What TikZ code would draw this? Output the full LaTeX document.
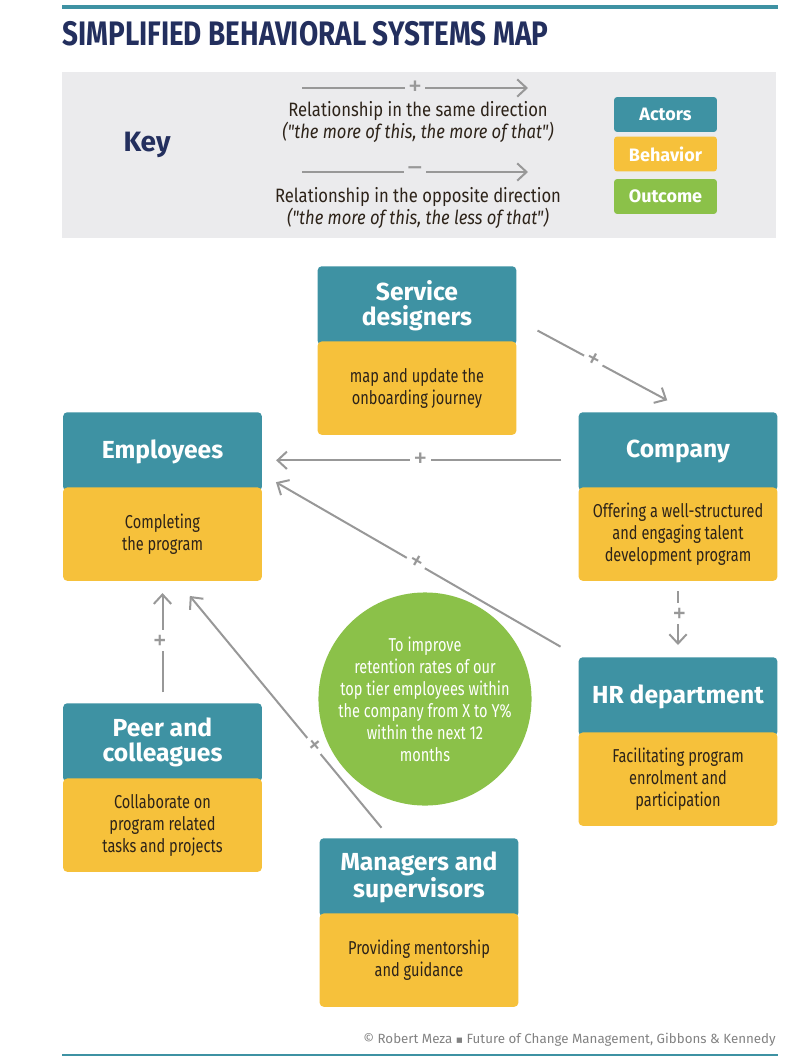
\documentclass[tikz,border=0pt]{standalone}
\usepackage{fontspec}
\setmainfont{Fira Sans}
\newfontfamily\narrowfont[FakeStretch=0.78]{Fira Sans}
\newfontfamily\keyfont[FakeStretch=0.86]{Fira Sans}
\newfontfamily\titlefont[FakeStretch=0.82]{Fira Sans}
\newfontfamily\symbolfont{DejaVu Sans}
\usetikzlibrary{positioning,calc,arrows.meta}
\definecolor{tealhead}{RGB}{62,146,163}
\definecolor{yellowbody}{RGB}{246,193,59}
\definecolor{greengoal}{RGB}{139,193,73}
\definecolor{navytitle}{RGB}{35,47,94}
\definecolor{keygray}{RGB}{235,235,237}
\definecolor{linkgray}{RGB}{152,152,152}
\definecolor{bodytext}{RGB}{45,35,25}
\definecolor{footgray}{RGB}{130,130,130}

\begin{document}
\begin{tikzpicture}[x=0.75pt, y=-0.75pt,
    actor/.style={fill=tealhead, text=white, rounded corners=3pt, anchor=north,
                  minimum width=149pt, minimum height=59pt, inner sep=0pt, align=center,
                  font=\bfseries\fontsize{18.5}{19}\selectfont},
    behav/.style={fill=yellowbody, text=bodytext, rounded corners=3pt,
                  minimum width=149pt, minimum height=70pt, inner sep=0pt, align=center,
                  font=\narrowfont\fontsize{14}{16.5}\selectfont},
    legend/.style={text=white, rounded corners=2pt, minimum width=77pt, minimum height=26pt,
                   inner sep=0pt, font=\bfseries\fontsize{13.5}{14}\selectfont},
    keytext/.style={text=bodytext, inner sep=0pt, font=\keyfont\fontsize{14.5}{16}\selectfont},
    rel/.style={draw=linkgray, line width=1.5pt, -{Straight Barb[length=7pt,width=13pt]}},
    sign/.style={fill=white, text=linkgray, inner sep=2.5pt, sloped,
                 font=\fontsize{21}{21}\selectfont}]
    \useasboundingbox (0,0) rectangle (812,1058);
    \draw[tealhead, line width=3pt] (62,7) -- (778,7);
    \node[anchor=base west, inner sep=0pt, text=navytitle,
          font=\titlefont\bfseries\fontsize{25.5}{26}\selectfont] (title) at (62,45)
        {SIMPLIFIED BEHAVIORAL SYSTEMS MAP};

    % key
    \fill[keygray] (62,72) rectangle (776,238);
    \node[text=navytitle, font=\bfseries\fontsize{21}{21}\selectfont] (key) at (147,145) {Key};
    \coordinate (samefrom) at (302,88);
    \coordinate (sameto) at (528,88);
    \draw[rel] (samefrom) -- node[sign, fill=keygray] {+} (sameto);
    \node[keytext] (same) at (418,111) {Relationship in the same direction};
    \node[keytext, font=\keyfont\itshape\fontsize{14.5}{16}\selectfont] (samequote) at (418,132)
        {("the more of this, the more of that")};
    \coordinate (oppfrom) at (302,172);
    \coordinate (oppto) at (528,172);
    \draw[rel] (oppfrom) -- node[sign, fill=keygray] {–} (oppto);
    \node[keytext] (opp) at (418,197) {Relationship in the opposite direction};
    \node[keytext, font=\keyfont\itshape\fontsize{14.5}{16}\selectfont] (oppquote) at (418,218)
        {("the more of this, the less of that")};
    \node[legend, fill=tealhead] (lgactor) at (665.5,114.5) {Actors};
    \node[legend, fill=yellowbody] (lgbehav) at (665.5,154) {Behavior};
    \node[legend, fill=greengoal] (lgout) at (665.5,196.5) {Outcome};

    % actors and behaviors
    \node[actor] (svch) at (417,266) {Service\\designers};
    \node[behav, below=-3pt of svch] (svcb) {map and update the\\onboarding journey};
    \node[actor] (emph) at (162.5,412) {Employees};
    \node[behav, below=-3pt of emph] (empb) {Completing\\the program};
    \node[actor] (comph) at (678,412) {Company};
    \node[behav, below=-3pt of comph] (compb) {Offering a well-structured\\and engaging talent\\development program};
    \node[actor] (hrh) at (678,657) {HR department};
    \node[behav, below=-3pt of hrh] (hrb) {Facilitating program\\enrolment and\\participation};
    \node[actor] (peerh) at (162.5,703) {Peer and\\colleagues};
    \node[behav, below=-3pt of peerh] (peerb) {Collaborate on\\program related\\tasks and projects};
    \node[actor] (mgrh) at (419,838) {Managers and\\supervisors};
    \node[behav, below=-3pt of mgrh] (mgrb) {Providing mentorship\\and guidance};

    % outcome
    \node[circle, fill=greengoal, text=white, minimum size=144pt, inner sep=0pt, align=center,
          font=\narrowfont\fontsize{14}{16.5}\selectfont] (goal) at (425,699)
        {To improve\\retention rates of our\\top tier employees within\\the company from X to Y\%\\within the next 12\\months};

    % relationships
    \draw[rel, shorten <=17.8pt, shorten >=18.5pt] ($(svch.east)+(0,13.7)$)
        -- node[sign, pos=0.445] {+} ($(comph.north)+(11,0)$);
    \draw[rel, shorten <=12.75pt, shorten >=10.5pt] ($(comph.west)+(0,8.7)$)
        -- node[sign, pos=0.5] {+} ($(emph.east)+(0,8.7)$);
    \draw[rel, shorten <=15.5pt, shorten >=12pt] (hrh.north west)
        -- node[sign, pos=0.514] {+} ($(emph.east)+(0,22.6)$);
    \draw[rel, shorten <=7.5pt, shorten >=9pt] (compb.south)
        -- node[sign, pos=0.43] {+} (hrh.north);
    \draw[rel, shorten <=8pt, shorten >=9pt] (peerh.north)
        -- node[sign, pos=0.515] {+} (empb.south);
    \draw[rel, shorten <=10pt, shorten >=14.5pt] ($(mgrh.north)+(-29,0)$)
        -- node[sign, pos=0.358] {+} ($(empb.south)+(15,0)$);

    \node[anchor=east, inner sep=0pt, text=footgray, font=\fontsize{10}{10}\selectfont] (credit) at (776,1040)
        {© Robert Meza {\symbolfont\fontsize{8}{8}\selectfont ▪} Future of Change Management, Gibbons \& Kennedy};
    \draw[tealhead, line width=1.5pt] (62,1055) -- (778,1055);
\end{tikzpicture}
\end{document}
